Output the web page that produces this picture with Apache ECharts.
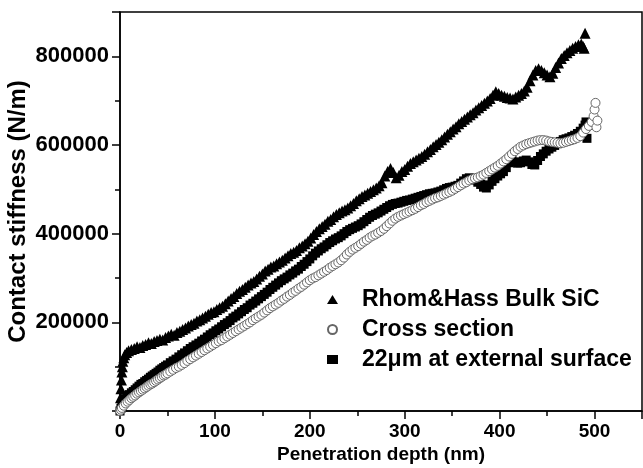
<!DOCTYPE html>
<html>
<head>
<meta charset="utf-8">
<script src="https://cdn.jsdelivr.net/npm/echarts@6.0.0/dist/echarts.min.js"></script>
<style>
  html, body { margin: 0; padding: 0; background: #fff; }
  #main { width: 643px; height: 468px; }
</style>
</head>
<body>
<div id="main"></div>
<script>
// 三组数据：[压入深度 nm, 接触刚度 N/m]
const bulkSiC = [
  [0, 10000], [0.5, 30000], [1, 50000], [1.5, 70000], [2, 88000], [2.5, 100000], [3, 112000],
  [4, 120000], [5, 127000], [7, 132000], [9, 136000], [12, 139000], [15, 141000], [18, 145000],
  [21, 143000], [24, 148000], [27, 150000], [30, 154000], [33, 152000], [36, 157000], [39, 159000],
  [42, 162000], [45, 160000], [48, 166000], [51, 169000], [54, 173000], [57, 171000], [60, 177000],
  [63, 180000], [66, 184000], [69, 187000], [72, 192000], [75, 195000], [78, 198000], [81, 203000],
  [84, 206000], [87, 210000], [90, 214000], [93, 218000], [96, 222000], [99, 224000], [102, 229000],
  [105, 233000], [108, 236000], [111, 242000], [114, 248000], [117, 254000], [120, 258000],
  [123, 265000], [126, 270000], [129, 274000], [132, 279000], [135, 284000], [138, 289000],
  [141, 292000], [144, 298000], [147, 304000], [150, 309000], [153, 316000], [156, 320000],
  [159, 325000], [162, 327000], [165, 332000], [168, 336000], [171, 340000], [174, 345000],
  [177, 350000], [180, 355000], [183, 358000], [186, 362000], [189, 368000], [192, 372000],
  [195, 377000], [198, 383000], [201, 390000], [204, 398000], [207, 405000], [210, 411000],
  [213, 416000], [216, 421000], [219, 428000], [222, 432000], [225, 438000], [228, 443000],
  [231, 447000], [234, 451000], [237, 454000], [240, 458000], [243, 463000], [246, 468000],
  [249, 474000], [252, 479000], [255, 484000], [258, 487000], [261, 491000], [264, 495000],
  [267, 499000], [270, 503000], [273, 508000], [276, 515000], [279, 530000], [282, 540000],
  [285, 547000], [288, 538000], [291, 526000], [294, 532000], [297, 540000], [300, 545000],
  [303, 552000], [306, 558000], [309, 562000], [312, 566000], [315, 570000], [318, 574000],
  [321, 579000], [324, 585000], [327, 590000], [330, 596000], [333, 601000], [336, 606000],
  [339, 612000], [342, 618000], [345, 624000], [348, 630000], [351, 636000], [354, 641000],
  [357, 648000], [360, 653000], [363, 658000], [366, 663000], [369, 668000], [372, 673000],
  [375, 679000], [378, 684000], [381, 689000], [384, 694000], [387, 699000], [390, 705000],
  [393, 712000], [396, 720000], [399, 716000], [402, 712000], [405, 710000], [408, 707000],
  [411, 706000], [414, 704000], [417, 708000], [420, 712000], [423, 716000], [426, 722000],
  [429, 730000], [432, 745000], [435, 758000], [438, 768000], [441, 772000], [444, 768000],
  [447, 763000], [450, 758000], [453, 754000], [456, 762000], [459, 775000], [462, 785000],
  [465, 795000], [468, 802000], [471, 808000], [474, 813000], [477, 818000], [480, 822000],
  [483, 826000], [486, 828000], [488, 822000], [489, 818000], [490, 852000]
];

const crossSection = [
  [0, 0], [1, 3000], [2, 7000], [4, 12000], [6, 17000], [8, 21000], [10, 25000], [12, 29000],
  [14, 32000], [16, 35000], [18, 39000], [20, 42000], [22, 45000], [24, 48000], [26, 51000],
  [28, 54000], [30, 57000], [32, 60000], [34, 62000], [36, 65000], [38, 68000], [40, 71000],
  [42, 74000], [44, 77000], [46, 80000], [48, 82000], [50, 85000], [53, 89000], [56, 93000],
  [59, 97000], [62, 100000], [65, 104000], [68, 108000], [71, 113000], [74, 117000], [77, 121000],
  [80, 125000], [83, 129000], [86, 133000], [89, 137000], [92, 141000], [95, 145000], [98, 149000],
  [101, 153000], [104, 157000], [107, 160000], [110, 164000], [113, 168000], [116, 172000],
  [119, 176000], [122, 180000], [125, 184000], [128, 188000], [131, 192000], [134, 196000],
  [137, 200000], [140, 205000], [143, 209000], [146, 213000], [149, 217000], [152, 222000],
  [155, 227000], [158, 232000], [161, 236000], [164, 240000], [167, 244000], [170, 249000],
  [173, 253000], [176, 258000], [179, 262000], [182, 267000], [185, 271000], [188, 276000],
  [191, 280000], [194, 285000], [197, 290000], [200, 295000], [203, 299000], [206, 302000],
  [209, 306000], [212, 310000], [215, 314000], [218, 318000], [221, 323000], [224, 327000],
  [227, 331000], [230, 335000], [233, 340000], [236, 346000], [239, 353000], [242, 359000],
  [245, 364000], [248, 368000], [251, 372000], [254, 377000], [257, 382000], [260, 386000],
  [263, 391000], [266, 395000], [269, 398000], [272, 402000], [275, 406000], [278, 411000],
  [281, 417000], [284, 423000], [287, 429000], [290, 434000], [293, 438000], [296, 441000],
  [299, 444000], [302, 447000], [305, 450000], [308, 453000], [311, 456000], [314, 460000],
  [317, 464000], [320, 467000], [323, 471000], [326, 474000], [329, 477000], [332, 480000],
  [335, 482000], [338, 485000], [341, 488000], [344, 491000], [347, 494000], [350, 497000],
  [353, 501000], [356, 505000], [359, 509000], [362, 513000], [365, 516000], [368, 520000],
  [371, 523000], [374, 525000], [377, 527000], [380, 530000], [383, 533000], [386, 537000],
  [389, 541000], [392, 545000], [395, 549000], [398, 553000], [401, 558000], [404, 563000],
  [407, 568000], [410, 574000], [413, 580000], [416, 586000], [419, 591000], [422, 596000],
  [425, 599000], [428, 602000], [431, 604000], [434, 606000], [437, 608000], [440, 610000],
  [443, 611000], [446, 611000], [449, 610000], [452, 608000], [455, 607000], [458, 606000],
  [461, 605000], [464, 604000], [467, 605000], [470, 607000], [473, 609000], [476, 611000],
  [479, 613000], [482, 616000], [485, 620000], [488, 628000], [491, 636000], [494, 643000],
  [497, 652000], [499, 665000], [500, 680000], [501, 695000], [502, 640000], [503, 655000]
];

const externalSurface = [
  [0, 0], [1, 6000], [2, 13000], [4, 20000], [6, 28000], [8, 33000], [10, 37000], [12, 41000],
  [14, 44000], [16, 48000], [18, 52000], [20, 56000], [22, 60000], [24, 62000], [26, 66000],
  [28, 69000], [30, 72000], [32, 76000], [34, 79000], [36, 82000], [38, 85000], [40, 88000],
  [42, 92000], [44, 95000], [46, 98000], [48, 101000], [50, 104000], [53, 109000], [56, 113000],
  [59, 117000], [62, 122000], [65, 127000], [68, 131000], [71, 136000], [74, 141000], [77, 145000],
  [80, 149000], [83, 153000], [86, 158000], [89, 162000], [92, 167000], [95, 172000], [98, 176000],
  [101, 181000], [104, 185000], [107, 190000], [110, 195000], [113, 199000], [116, 204000],
  [119, 210000], [122, 214000], [125, 219000], [128, 224000], [131, 229000], [134, 233000],
  [137, 239000], [140, 243000], [143, 248000], [146, 253000], [149, 258000], [152, 263000],
  [155, 268000], [158, 274000], [161, 279000], [164, 284000], [167, 289000], [170, 294000],
  [173, 298000], [176, 302000], [179, 307000], [182, 311000], [185, 316000], [188, 320000],
  [191, 326000], [194, 331000], [197, 337000], [200, 343000], [203, 350000], [206, 356000],
  [209, 361000], [212, 366000], [215, 370000], [218, 375000], [221, 380000], [224, 384000],
  [227, 388000], [230, 391000], [233, 395000], [236, 400000], [239, 405000], [242, 409000],
  [245, 412000], [248, 415000], [251, 418000], [254, 422000], [257, 427000], [260, 432000],
  [263, 437000], [266, 441000], [269, 444000], [272, 447000], [275, 451000], [278, 455000],
  [281, 459000], [284, 463000], [287, 466000], [290, 468000], [293, 469000], [296, 471000],
  [299, 473000], [302, 475000], [305, 476000], [308, 478000], [311, 480000], [314, 482000],
  [317, 484000], [320, 486000], [323, 488000], [326, 490000], [329, 491000], [332, 492000],
  [335, 494000], [338, 496000], [341, 499000], [344, 502000], [347, 504000], [350, 505000],
  [353, 507000], [356, 509000], [359, 514000], [362, 519000], [365, 524000], [368, 526000],
  [371, 524000], [374, 521000], [377, 516000], [380, 511000], [383, 505000], [386, 503000],
  [389, 510000], [392, 518000], [395, 524000], [398, 530000], [401, 535000], [404, 540000],
  [407, 549000], [410, 560000], [413, 565000], [416, 562000], [419, 559000], [422, 560000],
  [425, 564000], [428, 566000], [431, 562000], [434, 556000], [437, 555000], [440, 565000],
  [443, 574000], [446, 580000], [449, 586000], [452, 591000], [455, 595000], [458, 599000],
  [461, 603000], [464, 608000], [467, 612000], [470, 614000], [473, 616000], [476, 619000],
  [479, 622000], [482, 626000], [485, 631000], [488, 638000], [490, 645000], [491, 652000],
  [492, 615000]
];

const seriesNames = ['Rhom&Hass Bulk SiC', 'Cross section', '22μm at external surface'];
const xTicks = [0, 550, 100];      // min, max, interval
const yTicks = [0, 900000, 200000];

const font = 'Liberation Sans, Arial, Helvetica, sans-serif';
const axisLine = { show: true, onZero: false, lineStyle: { color: '#000', width: 1.5 } };

const myChart = echarts.init(document.getElementById('main'), null, { renderer: 'canvas' });
const option = {
  animation: false,
  backgroundColor: '#fff',
  grid: {
    left: 120, right: 1, top: 12, bottom: 57,
    show: true, borderColor: '#000', borderWidth: 1.5,
    containLabel: false, outerBoundsMode: 'none'
  },
  legend: {
    orient: 'vertical',
    left: 322, top: 283,
    itemWidth: 11, itemHeight: 9, itemGap: 7,
    symbolKeepAspect: true,
    data: [
      { name: seriesNames[0], icon: 'triangle' },
      { name: seriesNames[1], icon: 'circle' },
      { name: seriesNames[2], icon: 'rect' }
    ],
    textStyle: {
      fontSize: 23, fontWeight: 'bold', color: '#000', fontFamily: font,
      padding: [0, 0, 0, 19]
    }
  },
  xAxis: {
    type: 'value',
    min: xTicks[0], max: xTicks[1], interval: xTicks[2],
    name: 'Penetration depth (nm)',
    nameLocation: 'middle', nameGap: 34, nameMoveOverlap: false,
    nameTextStyle: { fontSize: 19, fontWeight: 'bold', color: '#000', fontFamily: font },
    axisLine: axisLine,
    axisTick: { show: true, inside: false, length: 8, lineStyle: { color: '#000', width: 1.5 } },
    minorTick: { show: true, splitNumber: 2, length: 5, lineStyle: { color: '#000', width: 1.5 } },
    axisLabel: { fontSize: 19, fontWeight: 'bold', color: '#000', fontFamily: font, margin: 11, showMaxLabel: false },
    splitLine: { show: false },
    minorSplitLine: { show: false }
  },
  yAxis: {
    type: 'value',
    min: yTicks[0], max: yTicks[1], interval: yTicks[2],
    name: 'Contact stiffness (N/m)',
    nameLocation: 'middle', nameGap: 90, nameMoveOverlap: false,
    nameTextStyle: { fontSize: 24, fontWeight: 'bold', color: '#000', fontFamily: font },
    axisLine: axisLine,
    axisTick: { show: true, inside: false, length: 8, lineStyle: { color: '#000', width: 1.5 } },
    minorTick: { show: true, splitNumber: 2, length: 5, lineStyle: { color: '#000', width: 1.5 } },
    axisLabel: {
      fontSize: 22, fontWeight: 'bold', color: '#000', fontFamily: font, margin: 11,
      showMaxLabel: false,
      formatter: (v) => (v === 0 ? '' : String(v))
    },
    splitLine: { show: false },
    minorSplitLine: { show: false }
  },
  series: [
    {
      name: seriesNames[0], type: 'scatter', symbol: 'triangle', symbolSize: 11,
      itemStyle: { color: '#000', opacity: 1 }, data: bulkSiC
    },
    {
      name: seriesNames[2], type: 'scatter', symbol: 'rect', symbolSize: 9,
      itemStyle: { color: '#000', opacity: 1 }, data: externalSurface
    },
    {
      name: seriesNames[1], type: 'scatter', symbol: 'circle', symbolSize: 9,
      itemStyle: { color: '#fff', borderColor: '#666', borderWidth: 1, opacity: 1 },
      data: crossSection
    }
  ]
};
myChart.setOption(option);
</script>
</body>
</html>
